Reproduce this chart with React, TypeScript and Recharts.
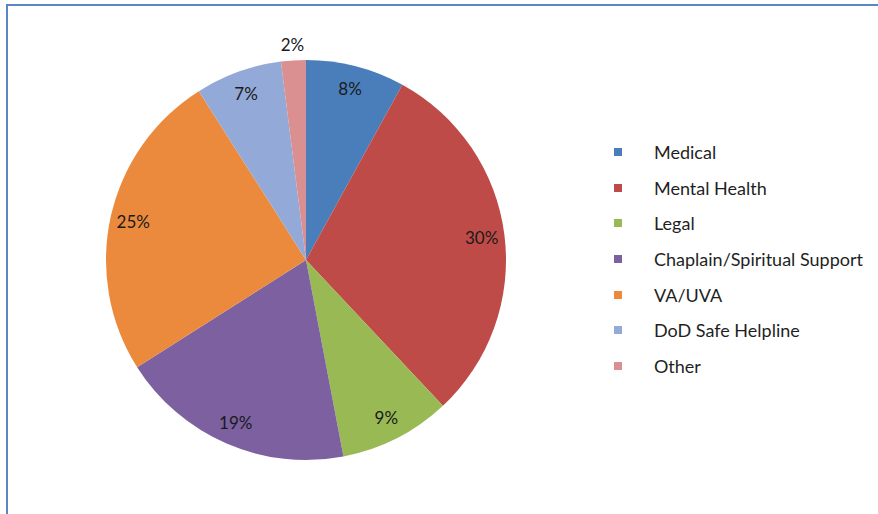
import React from "react";
import { PieChart, Pie, Cell, Legend } from "recharts";

const categories = [
  "Medical",
  "Mental Health",
  "Legal",
  "Chaplain/Spiritual Support",
  "VA/UVA",
  "DoD Safe Helpline",
  "Other",
];
const values = [8, 30, 9, 19, 25, 7, 2];
const colors = ["#4A7EBB", "#BE4B48", "#98B954", "#7D60A0", "#EB8A3C", "#93A9D7", "#DA9090"];

const data = categories.map((name, i) => ({ name, value: values[i] }));

const RADIAN = Math.PI / 180;
const FONT = "Lato, 'Open Sans', sans-serif";

const renderLabel = (props: any) => {
  const { cx, cy, midAngle, outerRadius, percent, value } = props;
  const r = percent < 0.03 ? outerRadius + 16 : outerRadius * 0.885;
  const x = cx + r * Math.cos(-midAngle * RADIAN);
  const y = cy + r * Math.sin(-midAngle * RADIAN);
  return (
    <text
      x={x}
      y={y}
      fill="#1a1a1a"
      textAnchor="middle"
      dominantBaseline="central"
      fontSize={17}
      fontFamily={FONT}
    >
      {`${value}%`}
    </text>
  );
};

const renderLegend = () => (
  <div style={{ fontFamily: FONT, fontSize: 18, color: "#1f1f1f" }}>
    {categories.map((c, i) => (
      <div key={c} style={{ height: 35.7, display: "flex", alignItems: "center" }}>
        <span
          style={{
            display: "inline-block",
            width: 8,
            height: 8,
            background: colors[i],
            marginLeft: 6,
            marginRight: 32,
          }}
        />
        <span>{c}</span>
      </div>
    ))}
  </div>
);

export default function App() {
  return (
    <div style={{ position: "fixed", left: 0, top: 0, width: 878, height: 514, background: "#fff" }}>
      <div
        style={{
          position: "absolute",
          left: 6,
          top: 4,
          width: 872,
          height: 510,
          borderTop: "2px solid #5B86C3",
          borderLeft: "2px solid #5B86C3",
          boxSizing: "border-box",
        }}
      />
      <div style={{ position: "absolute", left: 0, top: 0 }}>
        <PieChart width={878} height={514} margin={{ top: 0, right: 0, bottom: 0, left: 0 }}>
          <Pie
            data={data}
            dataKey="value"
            nameKey="name"
            cx={306}
            cy={260}
            outerRadius={200}
            startAngle={90}
            endAngle={-270}
            stroke="none"
            label={renderLabel}
            labelLine={false}
            isAnimationActive={false}
          >
            {data.map((d, i) => (
              <Cell key={d.name} fill={colors[i]} />
            ))}
          </Pie>
          <Legend
            content={renderLegend}
            layout="vertical"
            wrapperStyle={{ position: "absolute", left: 608, top: 134, width: 270 }}
          />
        </PieChart>
      </div>
    </div>
  );
}
